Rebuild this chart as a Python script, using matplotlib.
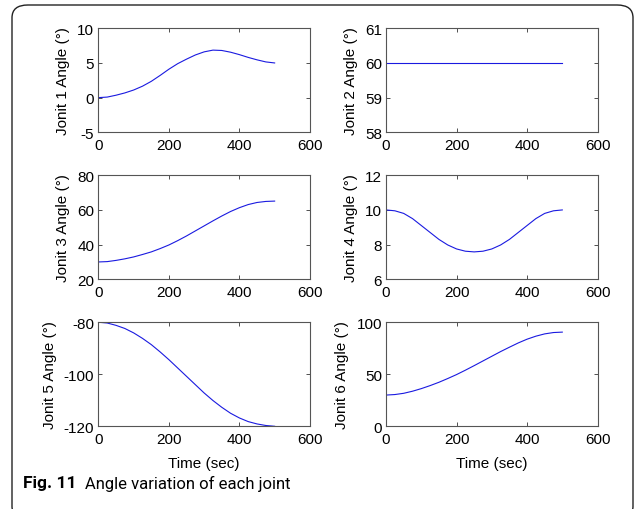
import matplotlib.pyplot as plt
from matplotlib.patches import FancyBboxPatch

plt.rcParams['font.family'] = ['Liberation Sans', 'DejaVu Sans']
plt.rcParams['axes.unicode_minus'] = False

# sample times (sec) and angles
t = [0, 25, 50, 75, 100, 125, 150, 175, 200, 225, 250,
     275, 300, 325, 350, 375, 400, 425, 450, 475, 500]
joint1 = [0, 0.08, 0.35, 0.68, 1.1, 1.65, 2.35, 3.2, 4.1, 4.9, 5.55,
          6.15, 6.6, 6.85, 6.8, 6.55, 6.2, 5.8, 5.45, 5.15, 5.0]
t2 = [0, 500]
joint2 = [60, 60]
joint3 = [30, 30.2, 30.9, 31.8, 32.9, 34.3, 35.8, 37.7, 39.8, 42.3, 45,
          47.9, 50.8, 53.7, 56.5, 59.1, 61.3, 63.1, 64.3, 64.9, 65.1]
joint4 = [10, 9.95, 9.8, 9.5, 9.1, 8.7, 8.3, 7.98, 7.75, 7.62, 7.58,
          7.62, 7.75, 7.98, 8.3, 8.7, 9.1, 9.5, 9.8, 9.95, 10]
joint5 = [-80, -80.3, -81.2, -82.4, -84.1, -86.2, -88.6, -91.4, -94.4, -97.6, -100.8,
          -104.0, -107.2, -110.1, -112.7, -115.0, -116.8, -118.2, -119.1, -119.7, -120]
joint6 = [30, 30.5, 31.7, 33.7, 36.2, 39.1, 42.3, 45.9, 49.7, 53.9, 58.3,
          62.8, 67.3, 71.8, 76, 80.1, 83.7, 86.6, 88.8, 90.1, 90.5]

series = [(t, joint1), (t2, joint2), (t, joint3), (t, joint4), (t, joint5), (t, joint6)]
ylims = [(-5, 10), (58, 61), (20, 80), (6, 12), (-120, -80), (0, 100)]
yticks = [[-5, 0, 5, 10], [58, 59, 60, 61], [20, 40, 60, 80],
          [6, 8, 10, 12], [-120, -100, -80], [0, 50, 100]]

fig = plt.figure(figsize=(6.35, 5.1), dpi=100)

# rounded frame around the figure
frame = FancyBboxPatch((12 / 635, -10 / 510), 621 / 635, 514 / 510,
                       boxstyle='round,pad=0,rounding_size=0.025',
                       transform=fig.transFigure, fill=False,
                       edgecolor='#222222', linewidth=1.0)
fig.patches.append(frame)

lefts = [0.155, 0.608]
bottoms = [0.7386, 0.4504, 0.1622]
w, h = 0.333, 0.204

for i, (x, y) in enumerate(series):
    r, c = divmod(i, 2)
    ax = fig.add_axes([lefts[c], bottoms[r], w, h])
    ax.plot(x, y, color='#1a1ae0', linewidth=0.8)
    ax.set_xlim(0, 600)
    ax.set_ylim(*ylims[i])
    ax.set_xticks([0, 200, 400, 600])
    ax.set_yticks(yticks[i])
    ax.tick_params(direction='in', length=3, width=0.6, top=True, right=True,
                   labelsize=11, color='#333333')
    ax.tick_params(axis='x', pad=4)
    ax.tick_params(axis='y', pad=3)
    for s in ax.spines.values():
        s.set_color('#555555')
        s.set_linewidth(0.8)
    ax.set_ylabel('Jonit %d Angle (°)' % (i + 1), fontsize=11, labelpad=5)
    if r == 2:
        ax.set_xlabel('Time (sec)', fontsize=11, labelpad=7)

fig.text(23 / 635, 1 - 484 / 510, 'Fig. 11', fontsize=12.5, fontweight='bold',
         family='Roboto', va='center')
fig.text(85 / 635, 1 - 484 / 510, 'Angle variation of each joint', fontsize=12,
         family='Roboto', va='center')

plt.savefig('out.png')
